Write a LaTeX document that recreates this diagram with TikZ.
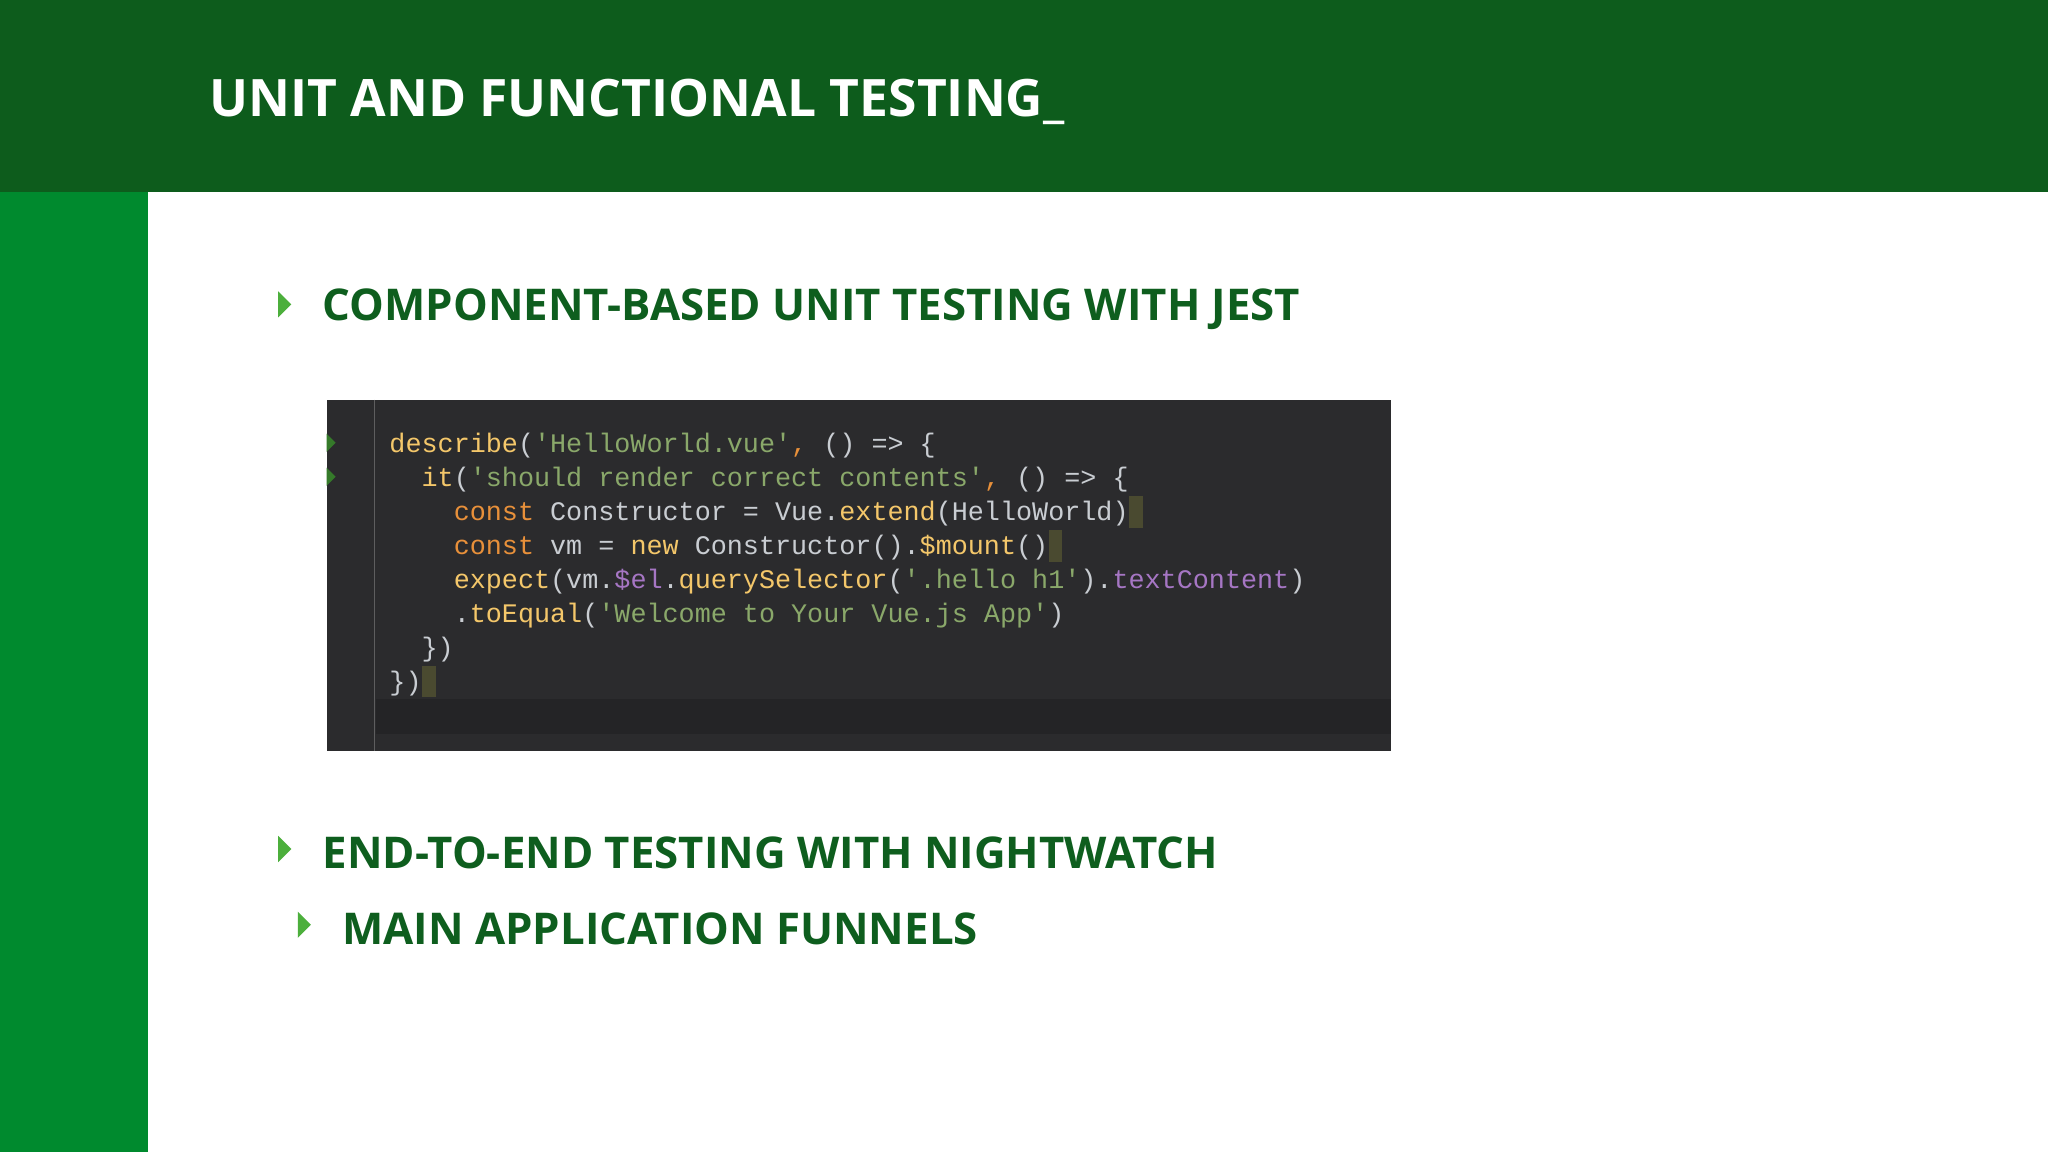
\documentclass[tikz,border=0pt]{standalone}
\usepackage{fontspec}
\setmainfont{Open Sans}
\setmonofont{Liberation Mono}
\definecolor{hdr}{HTML}{0D5C1C}
\definecolor{side}{HTML}{008A2E}
\definecolor{head}{HTML}{0E5E1E}
\definecolor{tri}{HTML}{4CAF3C}
\definecolor{bg}{HTML}{2B2B2D}
\definecolor{cw}{HTML}{C9CDD2}
\definecolor{cy}{HTML}{F4C76A}
\definecolor{co}{HTML}{E8903A}
\definecolor{cg}{HTML}{8AA86A}
\definecolor{cp}{HTML}{A676C4}
\definecolor{cur}{HTML}{4A4A30}
\newcommand\Y[1]{\textcolor{cy}{#1}}
\newcommand\Or[1]{\textcolor{co}{#1}}
\newcommand\G[1]{\textcolor{cg}{#1}}
\newcommand\Pu[1]{\textcolor{cp}{#1}}
\tikzset{
  bul/.style={anchor=west,inner sep=0pt,text=head,font=\bfseries\fontsize{33.5}{33.5}\selectfont},
  code/.style={anchor=west,inner sep=0pt,text=cw,font=\ttfamily\fontsize{20.5}{20.5}\selectfont},
  tri/.style={fill=tri}
}
\begin{document}
\begin{tikzpicture}[x=1pt,y=-1pt]
\useasboundingbox (0,0) rectangle (1568,882);
\fill[white] (0,0) rectangle (1568,882);
\fill[hdr] (0,0) rectangle (1568,147);
\fill[side] (0,147) rectangle (113,882);
\node[anchor=west,inner sep=0pt,text=white,font=\bfseries\fontsize{39.5}{39.5}\selectfont] (title) at (160,78) {UNIT AND FUNCTIONAL TESTING\_};
\fill[tri] (213,223) -- (223,233) -- (213,243) -- cycle;
\node[bul] (b1) at (247,237) {COMPONENT-BASED UNIT TESTING WITH JEST};
\fill[tri] (213,640) -- (223,650) -- (213,660) -- cycle;
\node[bul] (b2) at (247,653) {END-TO-END TESTING WITH NIGHTWATCH};
\fill[tri] (228,698) -- (238,708) -- (228,718) -- cycle;
\node[bul] (b3) at (262,711) {MAIN APPLICATION FUNNELS};
% code box
\fill[bg] (250,306) rectangle (1065,575);
\fill[black,opacity=0.15] (288,535) rectangle (1065,562);
\draw[gray!60!bg,line width=0.8pt] (287,306) -- (287,575);
\fill[cur] (864,380) rectangle (875,404);
\fill[cur] (803,406) rectangle (813,430);
\fill[cur] (323,510) rectangle (334,534);
\fill[tri!70!black] (250,332) -- (257,339) -- (250,346) -- cycle;
\fill[tri!70!black] (250,358) -- (257,365) -- (250,372) -- cycle;
\node[code] (l1) at (298,341) {\Y{describe}(\G{'HelloWorld.vue'}\Or{,} () => \{};
\node[code] (l2) at (298,367) {\ \ \Y{it}(\G{'should render correct contents'}\Or{,} () => \{};
\node[code] (l3) at (298,393) {\ \ \ \ \Or{const} Constructor = Vue.\Y{extend}(HelloWorld)};
\node[code] (l4) at (298,419) {\ \ \ \ \Or{const} vm = \Y{new} Constructor().\Y{\$mount}()};
\node[code] (l5) at (298,445) {\ \ \ \ \Y{expect}(vm.\Pu{\$el}.\Y{querySelector}(\G{'.hello h1'}).\Pu{textContent})};
\node[code] (l6) at (298,471) {\ \ \ \ .\Y{toEqual}(\G{'Welcome to Your Vue.js App'})};
\node[code] (l7) at (298,497) {\ \ \})};
\node[code] (l8) at (298,523) {\})};
\end{tikzpicture}
\end{document}
